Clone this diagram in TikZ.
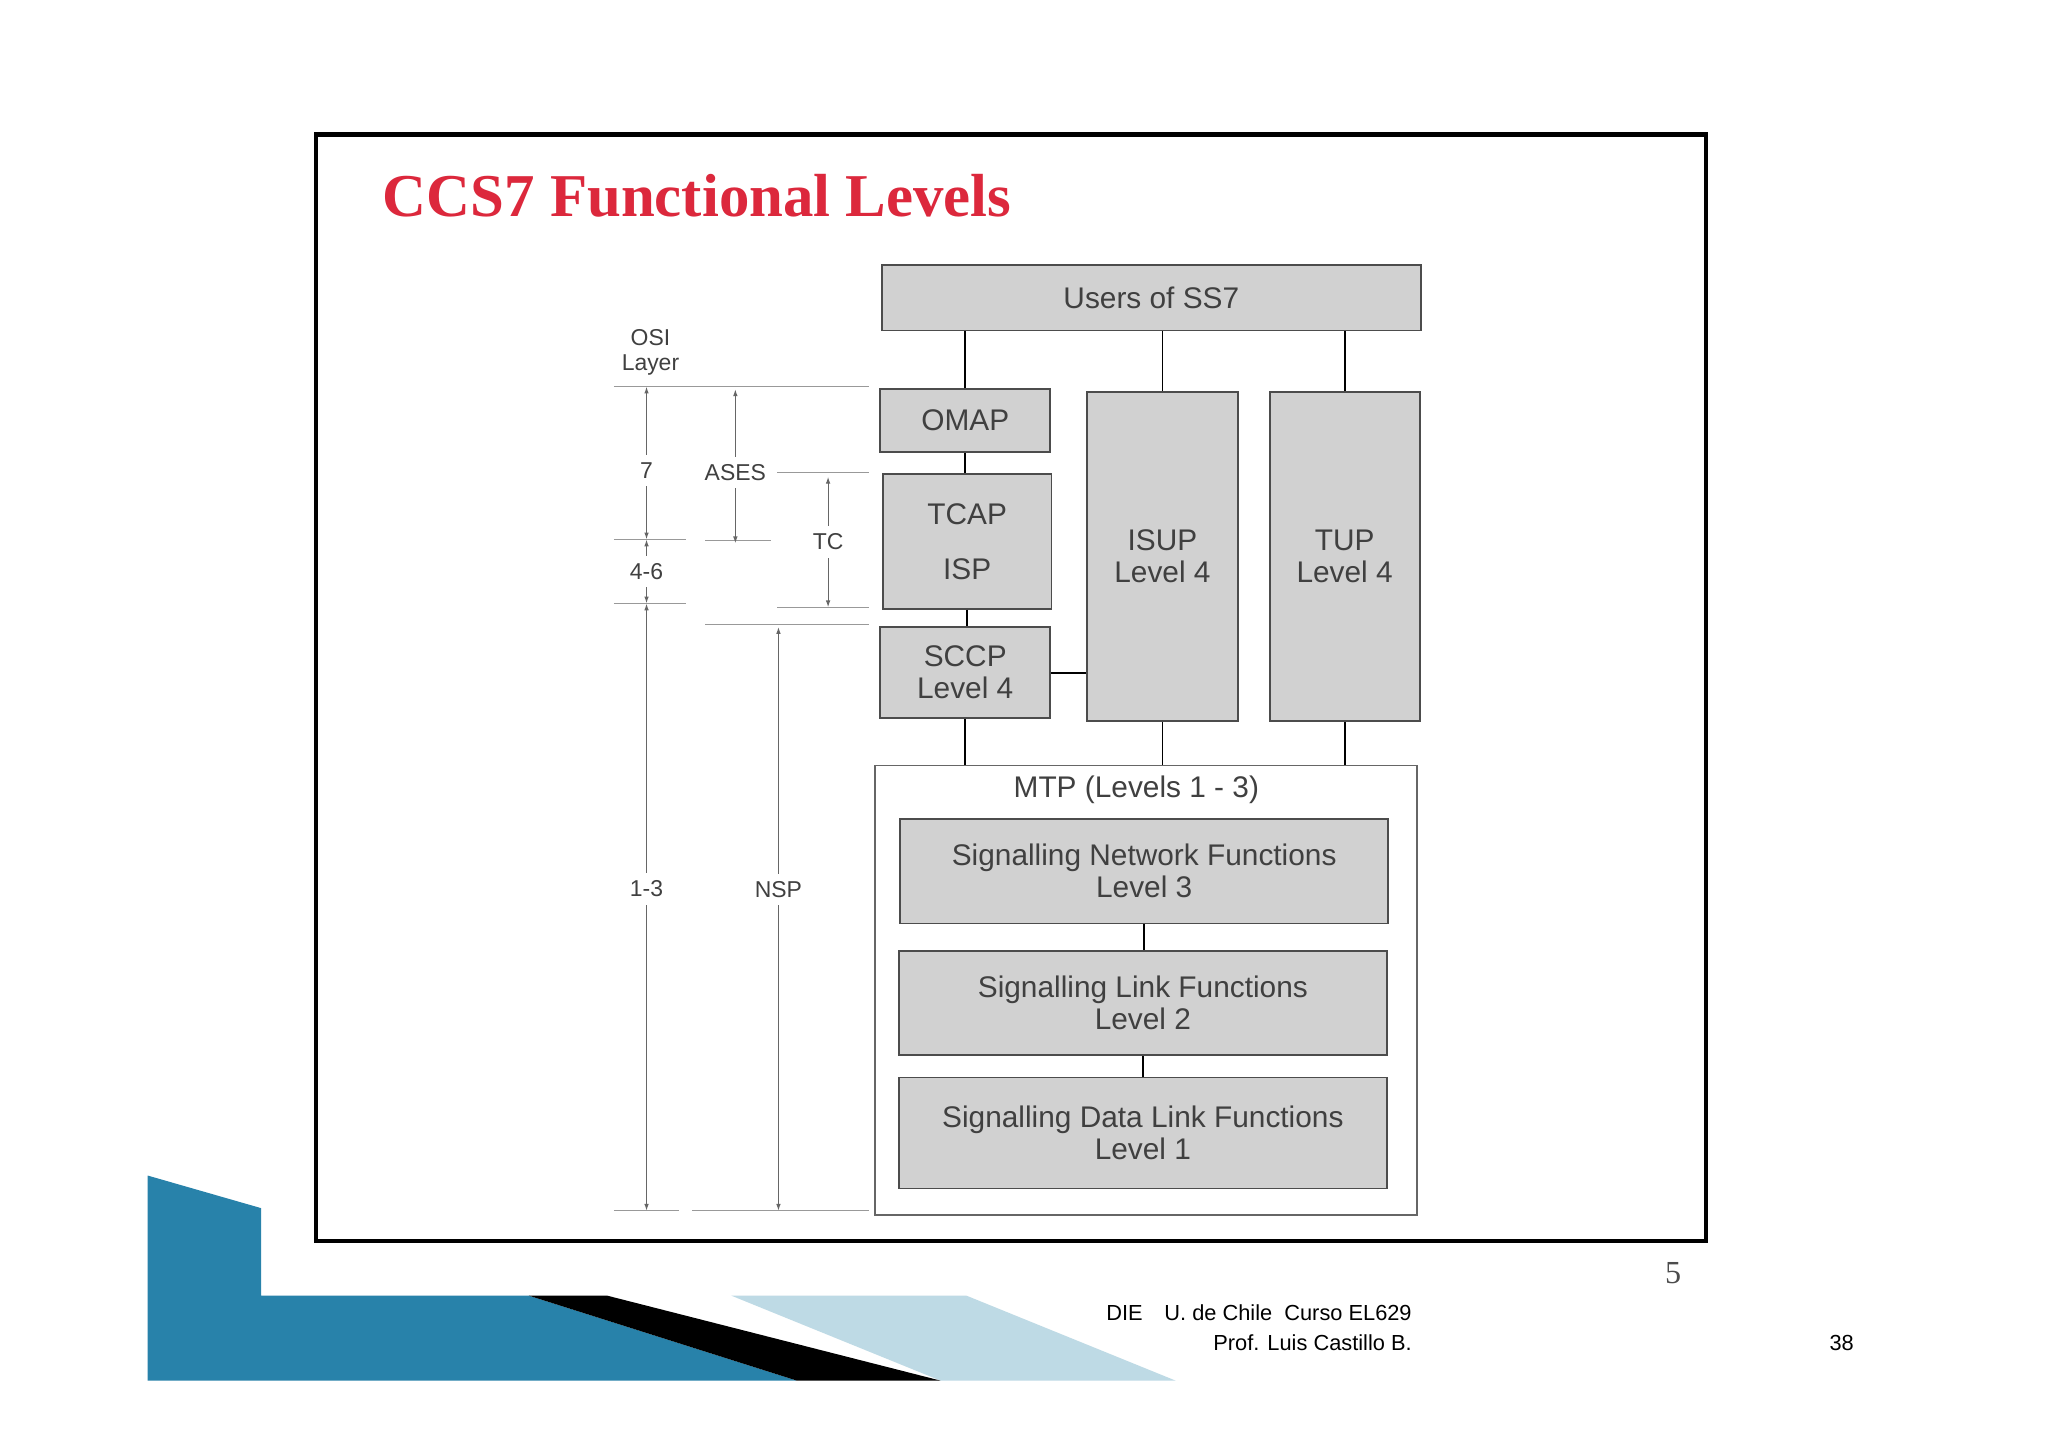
\documentclass[tikz,border=0pt]{standalone}
\usepackage{fontspec}
\setmainfont{Liberation Sans}
\newfontfamily\titlefont{Liberation Serif}
\usetikzlibrary{arrows.meta}
\definecolor{ccsred}{RGB}{220,40,60}
\definecolor{ccsblue}{RGB}{40,130,170}
\begin{document}
\begin{tikzpicture}[x=0.02cm,y=-0.02cm,
  blk/.style={draw=black!70,line width=0.8pt,fill=black!18},
  lbl/.style={font=\fontsize{13}{14}\selectfont,text=black!75,align=center},
  small/.style={font=\fontsize{10}{11}\selectfont,text=black!75,align=center},
  dim/.style={black!60,line width=0.5pt,{Latex[length=3pt,width=2pt]}-{Latex[length=3pt,width=2pt]}},
  guide/.style={black!40,line width=0.5pt}]
\useasboundingbox (0,0) rectangle (1568,1108.6);
\fill[white] (0,0) rectangle (1568,1108.6);
% footer graphics
\fill[ccsblue] (113,900)--(200,925)--(200,992)--(405,992)--(610,1057)--(113,1057)--cycle;
\fill[ccsblue!30] (560,992)--(740,992)--(900,1057)--(720,1057)--cycle;
\fill[black] (405,992)--(465,992)--(720,1057)--(610,1057)--cycle;
% frame
\draw[line width=2pt] (242,103) rectangle (1306,950);
\node[anchor=west,font=\titlefont\bfseries\fontsize{26.5}{28}\selectfont,text=ccsred] (title) at (287,150) {CCS7 Functional Levels};
% blocks
\node[blk,minimum width=8.26cm,minimum height=1cm,lbl] (users) at (881.5,228) {Users of SS7};
\node[blk,minimum width=2.6cm,minimum height=0.96cm,lbl] (omap) at (739,322) {OMAP};
\node[blk,minimum width=2.58cm,minimum height=2.06cm,lbl] (tcap) at (740.5,414.5) {TCAP\\[10pt]ISP};
\node[blk,minimum width=2.6cm,minimum height=1.4cm,lbl] (sccp) at (739,515) {SCCP\\Level 4};
\node[blk,minimum width=2.32cm,minimum height=5.04cm,lbl] (isup) at (890,426) {ISUP\\Level 4};
\node[blk,minimum width=2.3cm,minimum height=5.04cm,lbl] (tup) at (1029.5,426) {TUP\\Level 4};
\node[draw=black!60,line width=0.8pt,minimum width=8.3cm,minimum height=6.88cm] (mtp) at (877.5,758) {};
\node[lbl] (mtplbl) at (870,605) {MTP (Levels 1 - 3)};
\node[blk,minimum width=7.48cm,minimum height=1.6cm,lbl] (snf) at (876,667) {Signalling Network Functions\\Level 3};
\node[blk,minimum width=7.48cm,minimum height=1.6cm,lbl] (slf) at (875,768) {Signalling Link Functions\\Level 2};
\node[blk,minimum width=7.48cm,minimum height=1.7cm,lbl] (sdlf) at (875,867.5) {Signalling Data Link Functions\\Level 1};
% connectors
\draw[line width=0.8pt] (omap.north) -- (omap.north|-users.south);
\draw[line width=0.8pt] (isup.north) -- (isup.north|-users.south);
\draw[line width=0.8pt] (tup.north) -- (tup.north|-users.south);
\draw[line width=0.8pt] (omap.south) -- (omap.south|-tcap.north);
\draw[line width=0.8pt] (tcap.south) -- (tcap.south|-sccp.north);
\draw[line width=0.8pt] (sccp.east) -- (sccp.east-|isup.west);
\draw[line width=0.8pt] (sccp.south) -- (sccp.south|-mtp.north);
\draw[line width=0.8pt] (isup.south) -- (isup.south|-mtp.north);
\draw[line width=0.8pt] (tup.south) -- (tup.south|-mtp.north);
\draw[line width=0.8pt] (snf.south) -- (snf.south|-slf.north);
\draw[line width=0.8pt] (slf.south) -- (slf.south|-sdlf.north);
% OSI levels
\node[small] (osi) at (498,270) {OSI\\Layer};
\coordinate (o7t) at (495,296); \coordinate (o7b) at (495,413);
\coordinate (o4b) at (495,462); \coordinate (o1b) at (495,927);
\coordinate (at) at (563,298); \coordinate (ab) at (563,416);
\coordinate (tt) at (634,365); \coordinate (tb) at (634,465);
\coordinate (nt) at (596,480); \coordinate (nb) at (596,927);
\draw[guide] (470,296) -- (665,296);
\draw[guide] (470,413) -- (525,413) (540,414) -- (590,414);
\draw[guide] (470,462) -- (525,462);
\draw[guide] (470,927) -- (520,927) (530,927) -- (665,927);
\draw[guide] (595,362) -- (665,362) (595,465) -- (665,465);
\draw[guide] (540,478) -- (665,478);
\draw[dim] (o7t) -- node[pos=0.55,fill=white,small]{7} (o7b);
\draw[dim] (o7b) -- node[fill=white,small]{4-6} (o4b);
\draw[dim] (o4b) -- node[pos=0.47,fill=white,small]{1-3} (o1b);
\draw[dim] (at) -- node[pos=0.54,fill=white,small]{ASES} (ab);
\draw[dim] (tt) -- node[fill=white,small]{TC} (tb);
\draw[dim] (nt) -- node[pos=0.45,fill=white,small]{NSP} (nb);
% footer text
\node[font=\titlefont\fontsize{14}{14}\selectfont,text=black!70] (pg) at (1281,975) {5};
\node[anchor=east,font=\fontsize{9.5}{11}\selectfont] (foot1) at (1087,1005) {DIE\quad U. de Chile\ \ Curso EL629};
\node[anchor=east,font=\fontsize{9.5}{11}\selectfont] (foot2) at (1087,1028) {Prof. Luis Castillo B.};
\node[font=\fontsize{9.5}{11}\selectfont] (num) at (1410,1028) {38};
\end{tikzpicture}
\end{document}
